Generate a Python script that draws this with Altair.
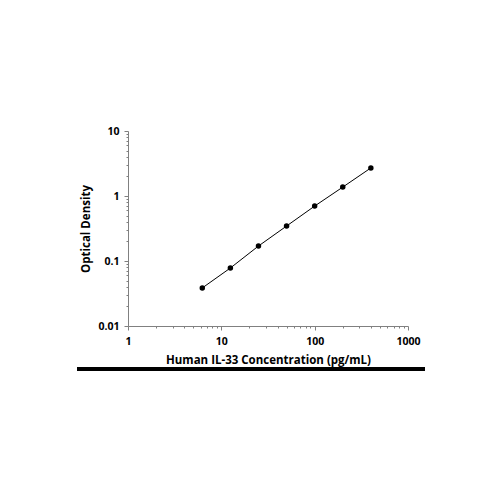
import altair as alt
import pandas as pd
import math

conc = [6.25, 12.5, 25, 50, 100, 200, 400]
od = [0.0385, 0.078, 0.170, 0.345, 0.70, 1.37, 2.70]

x_ticks = [m * 10 ** e for e in range(0, 3) for m in range(1, 10)] + [1000]
y_ticks = [round(m * 10 ** e, 4) for e in range(-2, 1) for m in range(1, 10)] + [10]

df = pd.DataFrame({"conc": conc, "od": od})

label_expr = ("abs(log(datum.value)/LN10 - round(log(datum.value)/LN10)) < 1e-6 ? "
              "format(datum.value, '~g') : ''")
major_test = "abs(log(datum.value)/LN10 - round(log(datum.value)/LN10)) < 1e-6"

font = "Open Sans"

xaxis = alt.Axis(values=x_ticks, labelExpr=label_expr, grid=False,
                 title="Human IL-33 Concentration (pg/mL)",
                 titleFont=font, titleFontWeight="bold", titleFontSize=11.5, titleColor="black",
                 labelFont=font, labelFontWeight="bold", labelFontSize=10.5, labelColor="black",
                 labelPadding=6, titlePadding=8,
                 domainColor="#808080", tickColor="#808080",
                 tickSize=alt.ConditionalAxisNumber(condition={"test": major_test, "value": 4}, value=2),
                 labelFlush=False, labelOverlap=False)
yaxis = alt.Axis(values=y_ticks, labelExpr=label_expr, grid=False,
                 title="Optical Density",
                 titleFont=font, titleFontWeight="bold", titleFontSize=11.5, titleColor="black",
                 labelFont=font, labelFontWeight="bold", labelFontSize=10.5, labelColor="black",
                 labelPadding=5, titlePadding=6,
                 domainColor="#808080", tickColor="#808080",
                 tickSize=alt.ConditionalAxisNumber(condition={"test": major_test, "value": 4}, value=2),
                 labelFlush=False, labelOverlap=False)

x = alt.X("conc:Q", scale=alt.Scale(type="log", domain=[1, 1000], nice=False), axis=xaxis)
y = alt.Y("od:Q", scale=alt.Scale(type="log", domain=[0.01, 10], nice=False), axis=yaxis)

base = alt.Chart(df)
line = base.mark_line(color="black", strokeWidth=1).encode(x=x, y=y)
pts = base.mark_circle(color="black", size=30, opacity=1).encode(x=x, y=y)
bar = alt.Chart(pd.DataFrame({"a": [0]})).mark_rule(color="black", strokeWidth=4, clip=False).encode(
    x=alt.value(-51), x2=alt.value(297), y=alt.value(238))

chart = alt.layer(line, pts, bar).properties(
    width=280, height=195,
    autosize=alt.AutoSizeParams(type="none"),
    padding={"left": 120, "top": 123, "right": 70, "bottom": 160},
).configure(background="white").configure_view(stroke=None)

chart.save("out.html", embed_options={"renderer": "svg", "actions": False})
